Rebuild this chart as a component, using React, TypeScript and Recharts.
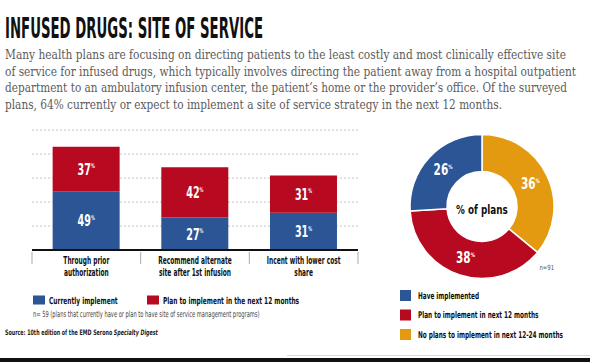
import React from 'react';
import { BarChart, Bar, XAxis, YAxis, CartesianGrid, LabelList, PieChart, Pie, Cell } from 'recharts';

// ---------- data ----------
const titleText = 'INFUSED DRUGS: SITE OF SERVICE';
const introLines = [
  'Many health plans are focusing on directing patients to the least costly and most clinically effective site',
  'of service for infused drugs, which typically involves directing the patient away from a hospital outpatient',
  'department to an ambulatory infusion center, the patient\u2019s home or the provider\u2019s office. Of the surveyed',
  'plans, 64% currently or expect to implement a site of service strategy in the next 12 months.',
];

const categories = ['Through prior authorization', 'Recommend alternate site after 1st infusion', 'Incent with lower cost share'];
const categoryLines = [
  ['Through prior', 'authorization'],
  ['Recommend alternate', 'site after 1st infusion'],
  ['Incent with lower cost', 'share'],
];
const currentlyImplement = [49, 27, 31];
const planToImplement = [37, 42, 31];
const barSeriesNames = ['Currently implement', 'Plan to implement in the next 12 months'];
const yTicks = [0, 20, 40, 60, 80];
const barNote = 'n= 59 (plans that currently have or plan to have site of service management programs)';
const sourcePrefix = 'Source: 10th edition of the EMD Serono ';
const sourceItalic = 'Specialty Digest';

const pieNames = ['No plans to implement in next 12-24 months', 'Plan to implement in next 12 months', 'Have implemented'];
const pieValues = [36, 38, 26];
const pieLegendOrder = [2, 1, 0];
const pieCenterLabel = '% of plans';
const pieNote = 'n=91';

// ---------- styles ----------
const BLUE = '#2b5595';
const RED = '#b70a20';
const ORANGE = '#e39a10';
const SANS = "'DejaVu Sans', sans-serif";
const SERIF = "'DejaVu Serif', serif";
const pieColors = [ORANGE, RED, BLUE];
const barColors = [BLUE, RED];
const introWidths = [561, 571, 562, 497];
const INTRO_SX = 0.75;

const barData = categories.map((c, i) => ({ name: c, current: currentlyImplement[i], plan: planToImplement[i] }));
const pieData = pieNames.map((n, i) => ({ name: n, value: pieValues[i] }));

function SText({ x, y, size, sx = 1, weight = 'normal', fill = '#000', anchor = 'start', family = SANS, children }: any) {
  return (
    <text
      transform={`translate(${x},${y}) scale(${sx},1)`}
      fontSize={size}
      fontWeight={weight}
      fill={fill}
      textAnchor={anchor}
      fontFamily={family}
    >
      {children}
    </text>
  );
}

function PctLabel({ x, y, value, size, sx }: any) {
  return (
    <g transform={`translate(${x},${y}) scale(${sx},1)`}>
      <text x={0} y={size * 0.365} textAnchor="middle" fontFamily={SANS} fontWeight="bold" fontSize={size} fill="#fff">
        {value}
        <tspan fontSize={size * 0.4} dy={-size * 0.42}>%</tspan>
      </text>
    </g>
  );
}

function BarValueLabel(props: any) {
  const vb = props.viewBox || {};
  const x = props.x ?? vb.x;
  const y = props.y ?? vb.y;
  const w = props.width ?? vb.width;
  const h = props.height ?? vb.height;
  return <PctLabel x={x + w / 2} y={y + h / 2} value={props.value} size={16} sx={0.6} />;
}

function CategoryTick(props: any) {
  const { x, y, payload } = props;
  const idx = categories.indexOf(payload.value);
  const lines = categoryLines[idx] || [String(payload.value)];
  const half = payload.offset || 54;
  return (
    <g>
      <line x1={x - half} x2={x - half} y1={y + 2} y2={y + 14} stroke="#aaa" strokeWidth={1} />
      {idx === categories.length - 1 && (
        <line x1={x + half} x2={x + half} y1={y + 2} y2={y + 14} stroke="#aaa" strokeWidth={1} />
      )}
      {lines.map((l: string, i: number) => (
        <SText key={i} x={x} y={y + 14 + i * 11.5} size={10} sx={0.59} weight="bold" anchor="middle" fill="#111">
          {l}
        </SText>
      ))}
    </g>
  );
}

const renderPieLabel = (p: any) => {
  const R = Math.PI / 180;
  const r = (p.innerRadius + p.outerRadius) / 2;
  const x = p.cx + r * Math.cos(-p.midAngle * R);
  const y = p.cy + r * Math.sin(-p.midAngle * R);
  return <PctLabel key={p.index} x={x} y={y} value={p.value} size={15} sx={0.7} />;
};

export default function App() {
  return (
    <div style={{ position: 'absolute', left: 0, top: 0, width: 590, height: 362, background: '#fff', overflow: 'hidden' }}>
      <div style={{ position: 'absolute', left: 0, top: 0 }}>
        <BarChart
          width={380}
          height={290}
          data={barData}
          margin={{ top: 130, left: 32, right: 22, bottom: 10 }}
          barCategoryGap="19%"
        >
          <CartesianGrid vertical={false} stroke="#c4c4c4" strokeDasharray="2 2" />
          <YAxis hide domain={[0, 100]} ticks={yTicks} width={0} />
          <XAxis
            dataKey="name"
            height={30}
            tickSize={0}
            tickMargin={0}
            tickLine={false}
            axisLine={{ stroke: '#111', strokeWidth: 2 }}
            tick={<CategoryTick />}
            interval={0}
          />
          <Bar dataKey="current" stackId="a" fill={barColors[0]} isAnimationActive={false} name={barSeriesNames[0]}>
            <LabelList dataKey="current" content={<BarValueLabel />} />
          </Bar>
          <Bar dataKey="plan" stackId="a" fill={barColors[1]} isAnimationActive={false} name={barSeriesNames[1]}>
            <LabelList dataKey="plan" content={<BarValueLabel />} />
          </Bar>
        </BarChart>
      </div>
      <div style={{ position: 'absolute', left: 380, top: 130 }}>
        <PieChart width={210} height={160} margin={{ top: 0, right: 0, bottom: 0, left: 0 }}>
          <Pie
            data={pieData}
            dataKey="value"
            cx={102}
            cy={76.5}
            innerRadius={35}
            outerRadius={72}
            startAngle={90}
            endAngle={-270}
            stroke="#fff"
            strokeWidth={1.5}
            label={renderPieLabel}
            labelLine={false}
            isAnimationActive={false}
          >
            {pieData.map((d, i) => (
              <Cell key={d.name} fill={pieColors[i]} />
            ))}
          </Pie>
        </PieChart>
      </div>
      <svg width={590} height={362} style={{ position: 'absolute', left: 0, top: 0, pointerEvents: 'none' }}>
        <text x={5} y={38} fontFamily={SANS} fontWeight="bold" fontSize={28} fill="#111" textLength={258} lengthAdjust="spacingAndGlyphs">
          {titleText}
        </text>
        {introLines.map((l, i) => (
          <text
            key={i}
            transform={`translate(5,${59 + i * 16.6}) scale(${INTRO_SX},1)`}
            fontFamily={SERIF}
            fontSize={12.5}
            fill="#5c5c5c"
            textLength={introWidths[i] / INTRO_SX}
            lengthAdjust="spacingAndGlyphs"
          >
            {l}
          </text>
        ))}
        {/* bar legend */}
        {barSeriesNames.map((n, i) => {
          const xs = [33, 147];
          return (
            <g key={n}>
              <rect x={xs[i]} y={295.5} width={12} height={9} fill={barColors[i]} />
              <SText x={xs[i] + 16} y={303.5} size={9.5} sx={0.62} weight="bold" fill="#111">{n}</SText>
            </g>
          );
        })}
        <SText x={33} y={317} size={8.5} sx={0.605} fill="#444">{barNote}</SText>
        <SText x={5} y={334.5} size={7.5} sx={0.64} weight="bold" fill="#222">
          {sourcePrefix}
          <tspan fontStyle="italic">{sourceItalic}</tspan>
        </SText>
        {/* pie texts */}
        <SText x={482} y={213.5} size={13} sx={0.68} weight="bold" anchor="middle" fill="#111">{pieCenterLabel}</SText>
        <SText x={539.5} y={270} size={7} sx={0.76} fill="#555">{pieNote}</SText>
        {pieLegendOrder.map((idx, r) => (
          <g key={idx}>
            <rect x={400} y={290 + r * 19.5} width={11} height={11} fill={pieColors[idx]} />
            <SText x={418} y={298.5 + r * 19.5} size={9.3} sx={0.62} weight="bold" fill="#111">{pieNames[idx]}</SText>
          </g>
        ))}
        <line x1={287} x2={590} y1={355.5} y2={355.5} stroke="#d8d8d8" strokeWidth={1} />
        <rect x={0} y={358} width={590} height={4} fill="#111" />
      </svg>
    </div>
  );
}
